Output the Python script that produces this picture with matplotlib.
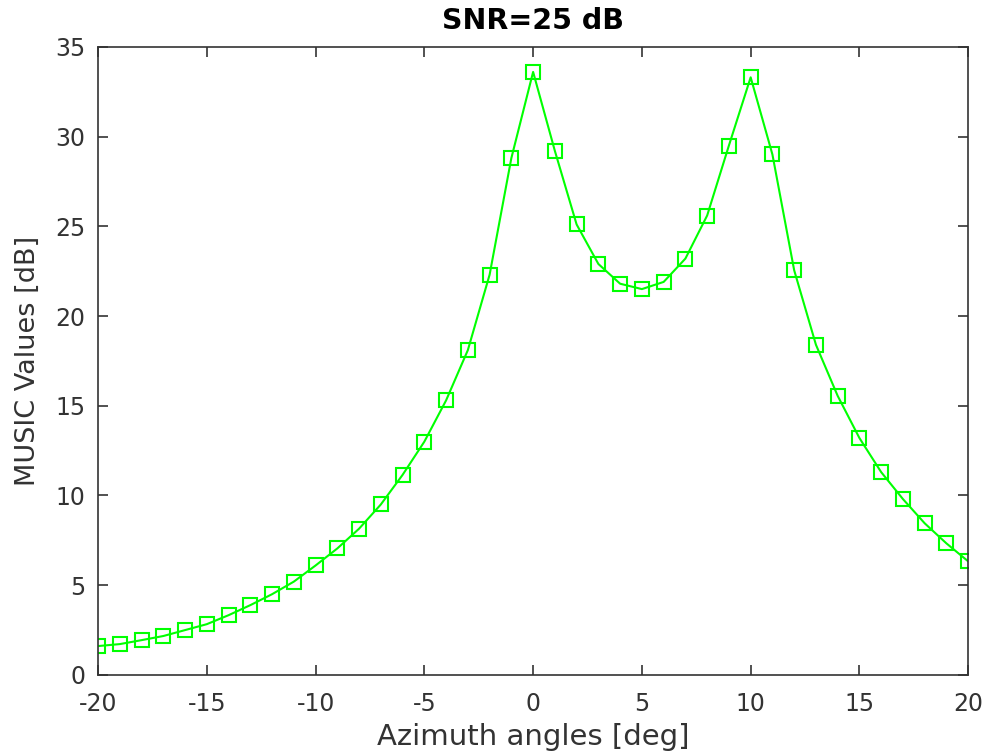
import numpy as np
import matplotlib
matplotlib.use("Agg")
import matplotlib.pyplot as plt

angles = np.arange(-20, 21)
music_db = [1.61, 1.72, 1.94, 2.17, 2.5, 2.83, 3.33, 3.89, 4.5, 5.2,
            6.1, 7.05, 8.15, 9.5, 11.15, 13.0, 15.3, 18.1, 22.3, 28.8,
            33.6, 29.2, 25.1, 22.9, 21.8, 21.5, 21.9, 23.2, 25.6, 29.5,
            33.3, 29.0, 22.55, 18.4, 15.55, 13.2, 11.3, 9.8, 8.45, 7.33,
            6.33]

grey = "#333333"
plt.rcParams["font.family"] = "DejaVu Sans"
plt.rcParams["axes.unicode_minus"] = False

fig = plt.figure(figsize=(9.9, 7.55), dpi=100)
ax = fig.add_axes([0.099, 0.106, 0.879, 0.832])

ax.plot(angles, music_db, color="#00ff00", linewidth=1.5, marker="s",
        markersize=9.5, markerfacecolor="none", markeredgewidth=1.5,
        markeredgecolor="#00ff00")

ax.set_xlim(-20, 20)
ax.set_ylim(0, 35)
ax.set_xticks(np.arange(-20, 21, 5))
ax.set_yticks(np.arange(0, 36, 5))
ax.tick_params(direction="in", length=7, width=1.2, top=True, right=True,
               labelsize=17, colors=grey, pad=9)
ax.tick_params(axis="x", pad=12)
for s in ax.spines.values():
    s.set_color(grey)
    s.set_linewidth(1.2)

ax.set_xlabel("Azimuth angles [deg]", fontsize=21, color=grey, labelpad=5)
ax.set_ylabel("MUSIC Values [dB]", fontsize=19.5, color=grey, labelpad=10)
ax.set_title("SNR=25 dB", fontsize=20.5, fontweight="bold", color="black", pad=13)

fig.savefig("out.png", dpi=100)
